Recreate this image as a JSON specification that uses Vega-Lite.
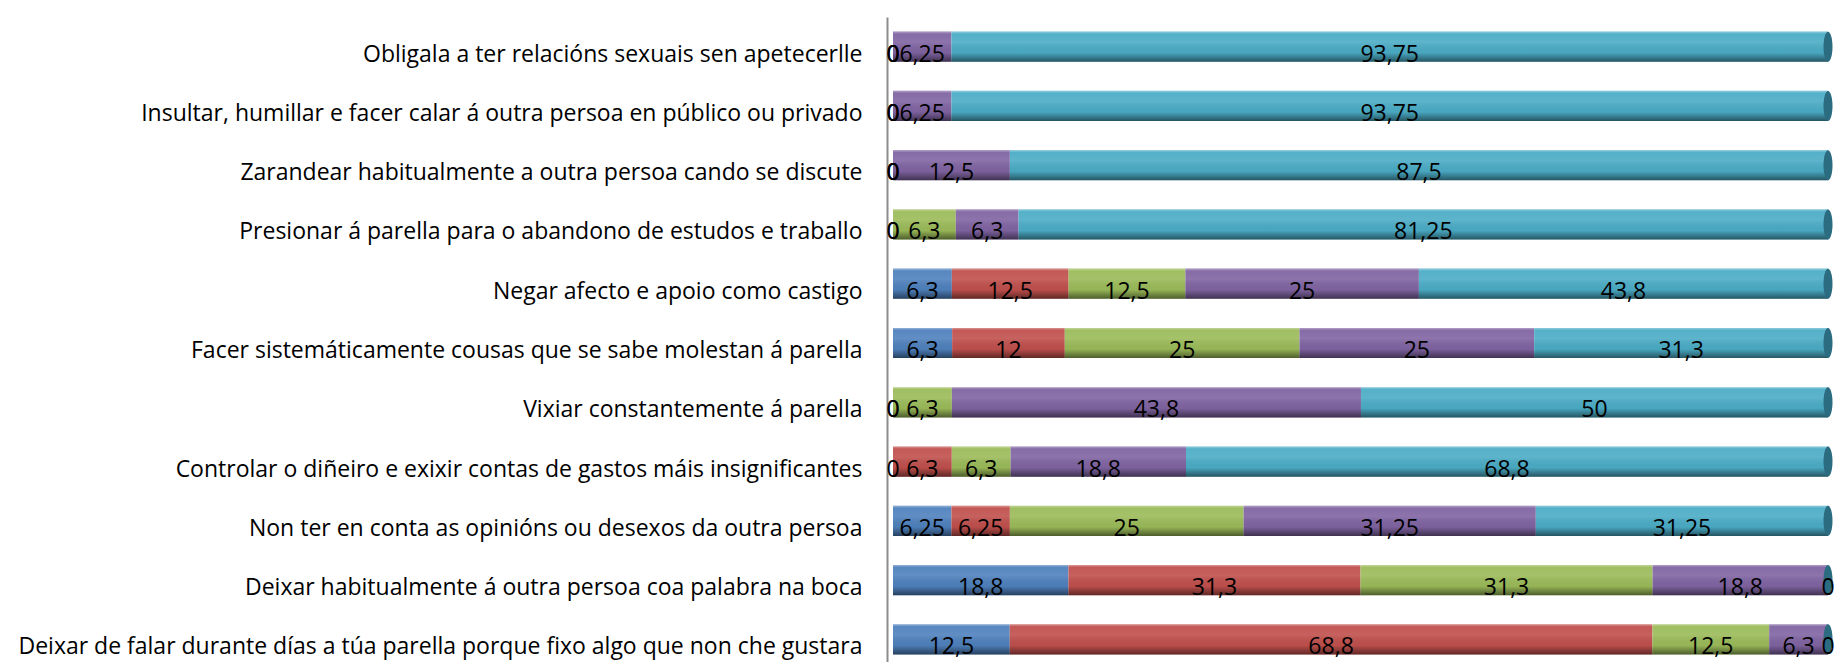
{
  "$schema": "https://vega.github.io/schema/vega-lite/v6.json",
  "width": 935,
  "height": 652,
  "autosize": {"type": "none"},
  "padding": {"left": 893, "top": 17, "right": 10, "bottom": 0},
  "background": "white",
  "config": {
    "view": {"stroke": null},
    "locale": {"number": {"decimal": ",", "thousands": ".", "grouping": [3], "currency": ["", " €"]}}
  },
  "data": {
    "values": [
      {"item": "Obligala a ter relacións sexuais sen apetecerlle", "s": "1", "v": 0},
      {"item": "Obligala a ter relacións sexuais sen apetecerlle", "s": "2", "v": 0},
      {"item": "Obligala a ter relacións sexuais sen apetecerlle", "s": "3", "v": 0},
      {"item": "Obligala a ter relacións sexuais sen apetecerlle", "s": "4", "v": 6.25},
      {"item": "Obligala a ter relacións sexuais sen apetecerlle", "s": "5", "v": 93.75},
      {"item": "Insultar, humillar e facer calar á outra persoa en público ou privado", "s": "1", "v": 0},
      {"item": "Insultar, humillar e facer calar á outra persoa en público ou privado", "s": "2", "v": 0},
      {"item": "Insultar, humillar e facer calar á outra persoa en público ou privado", "s": "3", "v": 0},
      {"item": "Insultar, humillar e facer calar á outra persoa en público ou privado", "s": "4", "v": 6.25},
      {"item": "Insultar, humillar e facer calar á outra persoa en público ou privado", "s": "5", "v": 93.75},
      {"item": "Zarandear habitualmente a outra persoa cando se discute", "s": "1", "v": 0},
      {"item": "Zarandear habitualmente a outra persoa cando se discute", "s": "2", "v": 0},
      {"item": "Zarandear habitualmente a outra persoa cando se discute", "s": "3", "v": 0},
      {"item": "Zarandear habitualmente a outra persoa cando se discute", "s": "4", "v": 12.5},
      {"item": "Zarandear habitualmente a outra persoa cando se discute", "s": "5", "v": 87.5},
      {"item": "Presionar á parella para o abandono de estudos e traballo", "s": "1", "v": 0},
      {"item": "Presionar á parella para o abandono de estudos e traballo", "s": "2", "v": 0},
      {"item": "Presionar á parella para o abandono de estudos e traballo", "s": "3", "v": 6.3},
      {"item": "Presionar á parella para o abandono de estudos e traballo", "s": "4", "v": 6.3},
      {"item": "Presionar á parella para o abandono de estudos e traballo", "s": "5", "v": 81.25},
      {"item": "Negar afecto e apoio como castigo", "s": "1", "v": 6.3},
      {"item": "Negar afecto e apoio como castigo", "s": "2", "v": 12.5},
      {"item": "Negar afecto e apoio como castigo", "s": "3", "v": 12.5},
      {"item": "Negar afecto e apoio como castigo", "s": "4", "v": 25},
      {"item": "Negar afecto e apoio como castigo", "s": "5", "v": 43.8},
      {"item": "Facer sistemáticamente cousas que se sabe molestan á parella", "s": "1", "v": 6.3},
      {"item": "Facer sistemáticamente cousas que se sabe molestan á parella", "s": "2", "v": 12},
      {"item": "Facer sistemáticamente cousas que se sabe molestan á parella", "s": "3", "v": 25},
      {"item": "Facer sistemáticamente cousas que se sabe molestan á parella", "s": "4", "v": 25},
      {"item": "Facer sistemáticamente cousas que se sabe molestan á parella", "s": "5", "v": 31.3},
      {"item": "Vixiar constantemente á parella", "s": "1", "v": 0},
      {"item": "Vixiar constantemente á parella", "s": "2", "v": 0},
      {"item": "Vixiar constantemente á parella", "s": "3", "v": 6.3},
      {"item": "Vixiar constantemente á parella", "s": "4", "v": 43.8},
      {"item": "Vixiar constantemente á parella", "s": "5", "v": 50},
      {"item": "Controlar o diñeiro e exixir contas de gastos máis insignificantes", "s": "1", "v": 0},
      {"item": "Controlar o diñeiro e exixir contas de gastos máis insignificantes", "s": "2", "v": 6.3},
      {"item": "Controlar o diñeiro e exixir contas de gastos máis insignificantes", "s": "3", "v": 6.3},
      {"item": "Controlar o diñeiro e exixir contas de gastos máis insignificantes", "s": "4", "v": 18.8},
      {"item": "Controlar o diñeiro e exixir contas de gastos máis insignificantes", "s": "5", "v": 68.8},
      {"item": "Non ter en conta as opinións ou desexos da outra persoa", "s": "1", "v": 6.25},
      {"item": "Non ter en conta as opinións ou desexos da outra persoa", "s": "2", "v": 6.25},
      {"item": "Non ter en conta as opinións ou desexos da outra persoa", "s": "3", "v": 25},
      {"item": "Non ter en conta as opinións ou desexos da outra persoa", "s": "4", "v": 31.25},
      {"item": "Non ter en conta as opinións ou desexos da outra persoa", "s": "5", "v": 31.25},
      {"item": "Deixar habitualmente á outra persoa coa palabra na boca", "s": "1", "v": 18.8},
      {"item": "Deixar habitualmente á outra persoa coa palabra na boca", "s": "2", "v": 31.3},
      {"item": "Deixar habitualmente á outra persoa coa palabra na boca", "s": "3", "v": 31.3},
      {"item": "Deixar habitualmente á outra persoa coa palabra na boca", "s": "4", "v": 18.8},
      {"item": "Deixar habitualmente á outra persoa coa palabra na boca", "s": "5", "v": 0},
      {"item": "Deixar de falar durante días a túa parella porque fixo algo que non che gustara", "s": "1", "v": 12.5},
      {"item": "Deixar de falar durante días a túa parella porque fixo algo que non che gustara", "s": "2", "v": 68.8},
      {"item": "Deixar de falar durante días a túa parella porque fixo algo que non che gustara", "s": "3", "v": 12.5},
      {"item": "Deixar de falar durante días a túa parella porque fixo algo que non che gustara", "s": "4", "v": 6.3},
      {"item": "Deixar de falar durante días a túa parella porque fixo algo que non che gustara", "s": "5", "v": 0}
    ]
  },
  "encoding": {
    "y": {
      "field": "item",
      "type": "nominal",
      "sort": null,
      "scale": {"paddingInner": 0.49, "paddingOuter": 0.245},
      "axis": {
        "title": null,
        "domainColor": "#8c8c8c",
        "domainWidth": 2,
        "ticks": false,
        "offset": 6,
        "labelFont": "Open Sans",
        "labelFontSize": 23,
        "labelColor": "#000000",
        "labelPadding": 25,
        "labelLimit": 0,
        "labelBaseline": "alphabetic",
        "labelOffset": 15
      }
    }
  },
  "layer": [
    {
      "mark": {"type": "bar"},
      "encoding": {
        "x": {"field": "v", "type": "quantitative", "stack": "normalize", "axis": null},
        "color": {
          "field": "s",
          "type": "nominal",
          "scale": {"domain": ["1", "2", "3", "4", "5"], "range": ["#4F81BD", "#C0504D", "#9BBB59", "#8064A2", "#4BACC6"]},
          "legend": null
        },
        "order": {"field": "s", "type": "ordinal"}
      }
    },
    {
      "mark": {
        "type": "bar",
        "fill": {
          "gradient": "linear",
          "x1": 0, "y1": 0, "x2": 0, "y2": 1,
          "stops": [
            {"offset": 0, "color": "rgba(255,255,255,0.4)"},
            {"offset": 0.08, "color": "rgba(255,255,255,0.05)"},
            {"offset": 0.35, "color": "rgba(255,255,255,0.1)"},
            {"offset": 0.7, "color": "rgba(0,0,0,0.03)"},
            {"offset": 1, "color": "rgba(0,0,0,0.5)"}
          ]
        }
      },
      "encoding": {
        "x": {"field": "v", "type": "quantitative", "stack": "normalize"},
        "detail": {"field": "s", "type": "nominal"},
        "order": {"field": "s", "type": "ordinal"}
      }
    },
    {
      "transform": [{"filter": "datum.s == '5'"}],
      "mark": {
        "type": "point",
        "shape": "M0,-1 A0.3,1 0 1,1 0,1 A0.3,1 0 1,1 0,-1 Z",
        "filled": true,
        "fill": "#2B6C80",
        "opacity": 1,
        "size": 900
      },
      "encoding": {"x": {"datum": 1, "type": "quantitative"}}
    },
    {
      "mark": {"type": "text", "font": "Open Sans", "fontSize": 23, "color": "#000000", "baseline": "alphabetic", "dy": 15},
      "encoding": {
        "x": {"field": "v", "type": "quantitative", "stack": "normalize", "bandPosition": 0.5},
        "detail": {"field": "s", "type": "nominal"},
        "order": {"field": "s", "type": "ordinal"},
        "text": {"field": "v", "type": "quantitative", "format": ".4~r"}
      }
    }
  ]
}
